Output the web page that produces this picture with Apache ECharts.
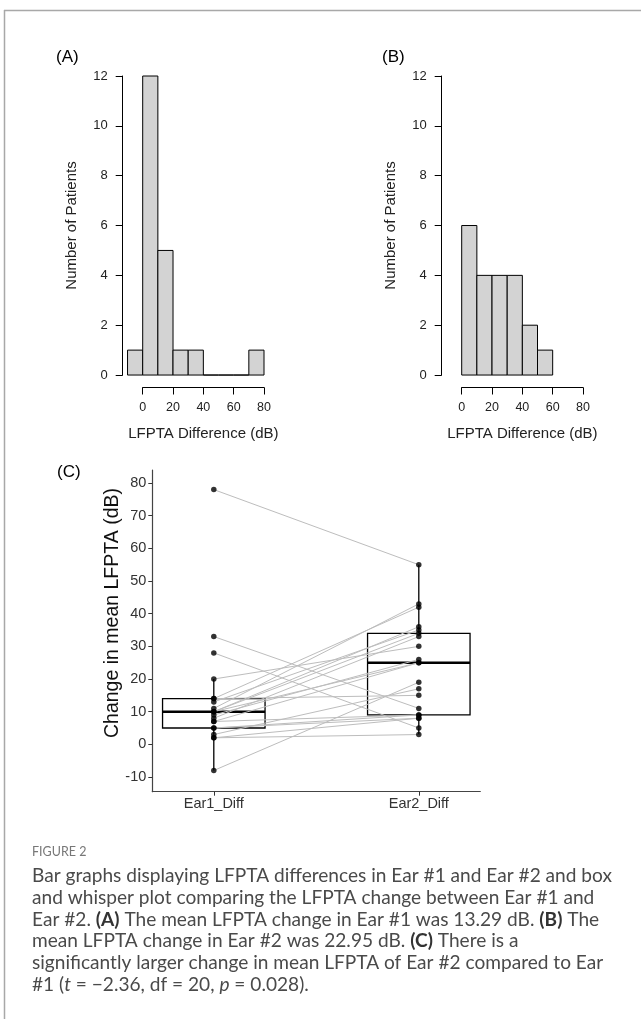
<!DOCTYPE html>
<html>
<head>
<meta charset="utf-8">
<script src="https://cdn.jsdelivr.net/npm/echarts@6/dist/echarts.min.js"></script>
<style>
  html, body { margin: 0; padding: 0; background: #fff; }
  #chart { width: 641px; height: 1019px; }
</style>
</head>
<body>
<div id="chart"></div>
<script>
// Panel A / B histograms (bin edges + counts)
const edgesA = [-10, 0, 10, 20, 30, 40, 50, 60, 70, 80];
const countsA = [1, 12, 5, 1, 1, 0, 0, 0, 1];
const edgesB = [0, 10, 20, 30, 40, 50, 60];
const countsB = [6, 4, 4, 4, 2, 1];
const histTicksX = [0, 20, 40, 60, 80];
const histTicksY = [0, 2, 4, 6, 8, 10, 12];

// Panel C paired values
const groups = ["Ear1_Diff", "Ear2_Diff"];
const ear1 = [78, 33, 28, 20, 14, 14, 13, 11, 10, 10, 10, 9, 8, 7, 7, 5, 5, 3, 2, 2, -8];
const ear2 = [55, 11, 5, 30, 15, 42, 35, 43, 25, 34, 36, 26, 33, 25, 9, 9, 8, 17, 8, 3, 19];
const yTicksC = [-10, 0, 10, 20, 30, 40, 50, 60, 70, 80];

const captionLines = [
  "Bar graphs displaying LFPTA differences in Ear #1 and Ear #2 and box",
  "and whisper plot comparing the LFPTA change between Ear #1 and",
  "Ear #2. {b|(A)} The mean LFPTA change in Ear #1 was 13.29 dB. {b|(B)} The",
  "mean LFPTA change in Ear #2 was 22.95 dB. {b|(C)} There is a",
  "significantly larger change in mean LFPTA of Ear #2 compared to Ear",
  "#1 ({i|t} = \u22122.36, df = 20, {i|p} = 0.028).",
];

const FONT = "Liberation Sans, Arial, sans-serif";
const CAP_FONT = "Lato, sans-serif";
const CAP_SIZE = 19.1;

const histBins = (edges, counts) =>
  counts.map((c, i) => [edges[i], edges[i + 1], c]);

function quantile(sorted, p) {
  const h = (sorted.length - 1) * p;
  const lo = Math.floor(h);
  const hi = Math.min(lo + 1, sorted.length - 1);
  return sorted[lo] + (h - lo) * (sorted[hi] - sorted[lo]);
}

function boxStats(values, x) {
  const s = [...values].sort((a, b) => a - b);
  const q1 = quantile(s, 0.25);
  const med = quantile(s, 0.5);
  const q3 = quantile(s, 0.75);
  const iqr = q3 - q1;
  const lo = Math.min(...s.filter((v) => v >= q1 - 1.5 * iqr));
  const hi = Math.max(...s.filter((v) => v <= q3 + 1.5 * iqr));
  return [x, lo, q1, med, q3, hi];
}

function renderHist(params, api) {
  const p0 = api.coord([api.value(0), api.value(2)]);
  const p1 = api.coord([api.value(1), 0]);
  return {
    type: "rect",
    shape: { x: p0[0], y: p0[1], width: p1[0] - p0[0], height: p1[1] - p0[1] },
    style: { fill: "#d3d3d3", stroke: "#000", lineWidth: 1 },
  };
}

function renderBox(params, api) {
  const x = api.value(0);
  const [lo, q1, med, q3, hi] = [1, 2, 3, 4, 5].map((d) => api.value(d));
  const tl = api.coord([x - 0.25, q3]);
  const br = api.coord([x + 0.25, q1]);
  const m0 = api.coord([x - 0.25, med]);
  const m1 = api.coord([x + 0.25, med]);
  const wHi = api.coord([x, hi]);
  const wLo = api.coord([x, lo]);
  const line = (a, b, w) => ({
    type: "line",
    shape: { x1: a[0], y1: a[1], x2: b[0], y2: b[1] },
    style: { stroke: "#000", lineWidth: w },
  });
  return {
    type: "group",
    children: [
      line(wHi, [wHi[0], tl[1]], 1.3),
      line([wLo[0], br[1]], wLo, 1.3),
      {
        type: "rect",
        shape: { x: tl[0], y: tl[1], width: br[0] - tl[0], height: br[1] - tl[1] },
        style: { fill: "none", stroke: "#000", lineWidth: 1.3 },
      },
      line(m0, m1, 2.6),
    ],
  };
}

const hidden = { show: false };

// data grid: x axis shown (0..80), y from -0.5 so the x axis sits below the bars
const histX = (gridIndex) => ({
  type: "value",
  gridIndex,
  min: 0,
  max: 80,
  axisLine: { onZero: false, lineStyle: { color: "#000", width: 1 } },
  axisTick: { customValues: histTicksX, length: 7, lineStyle: { color: "#000" } },
  axisLabel: { customValues: histTicksX, fontSize: 12.5, color: "#222", margin: 14, fontFamily: FONT },
  splitLine: hidden,
  name: "LFPTA Difference (dB)",
  nameLocation: "middle",
  nameGap: 39,
  nameMoveOverlap: false,
  nameTextStyle: { fontSize: 15, color: "#222", fontFamily: FONT },
});

const histYData = (gridIndex) => ({
  type: "value",
  gridIndex,
  min: -0.5,
  max: 12,
  show: false,
});

// separate grid carrying only the detached y axis (0..12)
const histYAxis = (gridIndex) => ({
  type: "value",
  gridIndex,
  min: 0,
  max: 12,
  axisLine: { show: true, onZero: false, lineStyle: { color: "#000", width: 1 } },
  axisTick: { show: true, customValues: histTicksY, length: 7, lineStyle: { color: "#000" } },
  axisLabel: { customValues: histTicksY, fontSize: 13, color: "#222", margin: 15, fontFamily: FONT },
  splitLine: hidden,
  name: "Number of Patients",
  nameLocation: "middle",
  nameGap: 43,
  nameMoveOverlap: false,
  nameTextStyle: { fontSize: 15, color: "#222", fontFamily: FONT },
});

const dummyX = (gridIndex) => ({ type: "value", gridIndex, min: 0, max: 1, show: false });

const captionGraphics = captionLines.map((t, i) => ({
  type: "text",
  x: 32,
  y: 876 + i * 21.7,
  style: {
    text: t,
    fontSize: CAP_SIZE,
    fontFamily: CAP_FONT,
    fill: "#4a4a4a",
    verticalAlign: "middle",
    rich: {
      b: { fontSize: CAP_SIZE, fontFamily: CAP_FONT, fontWeight: "bold", fill: "#333" },
      i: { fontSize: CAP_SIZE, fontFamily: CAP_FONT, fontStyle: "italic", fill: "#4a4a4a" },
    },
  },
}));

const panelLabel = (text, x, y) => ({
  type: "text",
  x,
  y,
  style: { text, fontSize: 17, fontFamily: FONT, fill: "#000", verticalAlign: "middle" },
});

const chart = echarts.init(document.getElementById("chart"), null, { renderer: "canvas" });

chart.setOption({
  animation: false,
  backgroundColor: "#fff",
  grid: [
    { left: 142.7, top: 76, width: 121.3, height: 311.5 },
    { left: 122.7, top: 76, width: 20, height: 299 },
    { left: 461.7, top: 76, width: 121.3, height: 311.5 },
    { left: 441.7, top: 76, width: 20, height: 299 },
    { left: 152.3, top: 470, width: 328, height: 321.7 },
  ],
  xAxis: [
    histX(0),
    dummyX(1),
    histX(2),
    dummyX(3),
    {
      type: "value",
      gridIndex: 4,
      min: 0.7,
      max: 2.3,
      axisLine: { onZero: false, lineStyle: { color: "#444", width: 1.2 } },
      axisTick: { customValues: [1, 2], length: 4, lineStyle: { color: "#333" } },
      axisLabel: {
        customValues: [1, 2],
        formatter: (v) => groups[Math.round(v) - 1],
        fontSize: 14.5,
        color: "#333",
        margin: 5,
        fontFamily: FONT,
      },
      splitLine: hidden,
    },
  ],
  yAxis: [
    histYData(0),
    histYAxis(1),
    histYData(2),
    histYAxis(3),
    {
      type: "value",
      gridIndex: 4,
      min: -14.5,
      max: 84,
      axisLine: { show: true, onZero: false, lineStyle: { color: "#444", width: 1.2 } },
      axisTick: { show: true, customValues: yTicksC, length: 4, lineStyle: { color: "#333" } },
      axisLabel: { customValues: yTicksC, fontSize: 14.5, color: "#333", margin: 6, fontFamily: FONT },
      splitLine: hidden,
    },
  ],
  graphic: [
    { type: "line", shape: { x1: 4, y1: 10.5, x2: 641, y2: 10.5 }, style: { stroke: "#a8a8a8", lineWidth: 1.5 } },
    { type: "line", shape: { x1: 4.5, y1: 10, x2: 4.5, y2: 1019 }, style: { stroke: "#a8a8a8", lineWidth: 1.5 } },
    panelLabel("(A)", 56, 57),
    panelLabel("(B)", 382, 57),
    panelLabel("(C)", 57, 472),
    {
      type: "text",
      x: 113,
      y: 613,
      rotation: Math.PI / 2,
      style: {
        text: "Change in mean LFPTA (dB)",
        fontSize: 19.5,
        fontFamily: FONT,
        fill: "#111",
        align: "center",
        verticalAlign: "middle",
      },
    },
    {
      type: "text",
      x: 32,
      y: 852,
      style: { text: "FIGURE 2", fontSize: 12.5, fontFamily: CAP_FONT, fill: "#777", verticalAlign: "middle" },
    },
    ...captionGraphics,
  ],
  series: [
    {
      type: "custom",
      xAxisIndex: 0,
      yAxisIndex: 0,
      clip: false,
      renderItem: renderHist,
      encode: { x: [0, 1], y: 2 },
      data: histBins(edgesA, countsA),
    },
    {
      type: "custom",
      xAxisIndex: 2,
      yAxisIndex: 2,
      clip: false,
      renderItem: renderHist,
      encode: { x: [0, 1], y: 2 },
      data: histBins(edgesB, countsB),
    },
    {
      type: "custom",
      xAxisIndex: 4,
      yAxisIndex: 4,
      z: 1,
      renderItem: renderBox,
      encode: { x: 0, y: [1, 2, 3, 4, 5] },
      data: [boxStats(ear1, 1), boxStats(ear2, 2)],
    },
    {
      type: "lines",
      coordinateSystem: "cartesian2d",
      xAxisIndex: 4,
      yAxisIndex: 4,
      z: 2,
      lineStyle: { color: "#bdbdbd", width: 1, opacity: 1 },
      data: ear1.map((v, i) => ({ coords: [[1, v], [2, ear2[i]]] })),
    },
    {
      type: "scatter",
      xAxisIndex: 4,
      yAxisIndex: 4,
      z: 3,
      symbol: "circle",
      symbolSize: 5.5,
      itemStyle: { color: "#000" },
      data: [
        ...ear1.map((v) => [1, v]),
        ...ear2.map((v) => [2, v]),
      ],
    },
  ],
});
</script>
</body>
</html>
